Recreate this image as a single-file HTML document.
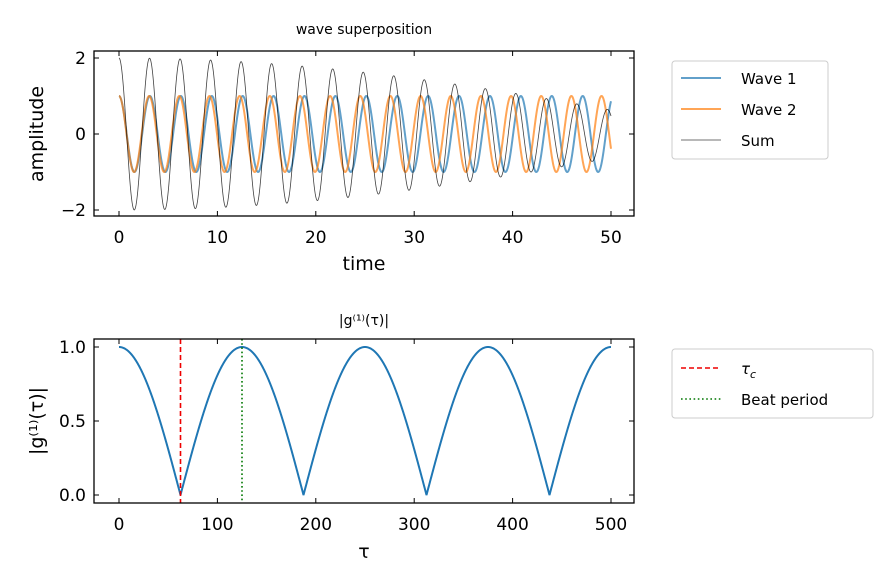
<!DOCTYPE html>
<html><head><meta charset="utf-8">
<style>
html,body{margin:0;padding:0;background:#fff;}
svg text{font-family:"DejaVu Sans","Liberation Sans",sans-serif;fill:#000;}
</style></head>
<body>
<svg id="s" width="892" height="583" xmlns="http://www.w3.org/2000/svg">
<rect width="892" height="583" fill="#fff"/>
<text x="364" y="34" style="font-size:14px" text-anchor="middle">wave superposition</text>
<g id="gtop"></g>
<text x="364" y="325" style="font-size:14px" text-anchor="middle">|g⁽¹⁾(τ)|</text>
<g id="gbot"></g>
</svg>
<script>
(function(){
var NS="http://www.w3.org/2000/svg";
function el(p,t,a,txt){var e=document.createElementNS(NS,t);for(var k in a)e.setAttribute(k,a[k]);if(txt!=null)e.textContent=txt;p.appendChild(e);return e;}
function fs(n){return 'font-size:'+n+'px';}
var gTop=document.getElementById('gtop'),gBot=document.getElementById('gbot');
var L=94,R=634,T1=51,B1=216;
function xt(t){return 119+t*9.84;} function yt(v){return 134-v*38;}
function path(f,x0,x1,n,X,Y){var d="";for(var i=0;i<=n;i++){var t=x0+(x1-x0)*i/n;d+=(i?"L":"M")+X(t).toFixed(2)+","+Y(f(t)).toFixed(2);}return d;}
var w1=2,w2=2.05;
el(gTop,'path',{d:path(function(t){return Math.cos(w1*t)},0,50,1500,xt,yt),fill:'none',stroke:'#1f77b4','stroke-opacity':0.7,'stroke-width':2});
el(gTop,'path',{d:path(function(t){return Math.cos(w2*t)},0,50,1500,xt,yt),fill:'none',stroke:'#ff7f0e','stroke-opacity':0.7,'stroke-width':2});
el(gTop,'path',{d:path(function(t){return Math.cos(w1*t)+Math.cos(w2*t)},0,50,1500,xt,yt),fill:'none',stroke:'#000','stroke-opacity':0.75,'stroke-width':0.8});
el(gTop,'rect',{x:L,y:T1,width:R-L,height:B1-T1,fill:'none',stroke:'#000','stroke-width':1.3});
[0,10,20,30,40,50].forEach(function(v){var x=xt(v);el(gTop,'line',{x1:x,x2:x,y1:B1,y2:B1-5,stroke:'#000'});el(gTop,'line',{x1:x,x2:x,y1:T1,y2:T1+5,stroke:'#000'});el(gTop,'text',{x:x,y:B1+27,style:fs(17),'text-anchor':'middle'},v);});
[-2,0,2].forEach(function(v){var y=yt(v);el(gTop,'line',{x1:L,x2:L+5,y1:y,y2:y,stroke:'#000'});el(gTop,'line',{x1:R,x2:R-5,y1:y,y2:y,stroke:'#000'});el(gTop,'text',{x:L-8,y:y+6,style:fs(17),'text-anchor':'end'},v<0?'−'+(-v):v);});
el(gTop,'text',{x:364,y:270,style:fs(19),'text-anchor':'middle'},'time');
el(gTop,'text',{x:43,y:134,style:fs(19),'text-anchor':'middle',transform:'rotate(-90 43 134)'},'amplitude');
el(gTop,'rect',{x:672,y:61,width:156,height:98,rx:3,fill:'#fff',stroke:'#ccc'});
[['Wave 1','#1f77b4',2,0.7],['Wave 2','#ff7f0e',2,0.7],['Sum','#000',0.8,0.75]].forEach(function(a,i){var y=78+i*31;el(gTop,'line',{x1:681,x2:721,y1:y,y2:y,stroke:a[1],'stroke-width':a[2],'stroke-opacity':a[3]});el(gTop,'text',{x:741,y:y+6,style:fs(15)},a[0]);});
var T2=339,B2=503;
function xb(t){return 119+t*0.984;} function yb(v){return 495-v*148;}
el(gBot,'path',{d:path(function(t){return Math.abs(Math.cos(Math.PI*t/125))},0,500,1500,xb,yb),fill:'none',stroke:'#1f77b4','stroke-width':2});
el(gBot,'line',{x1:xb(62.5),x2:xb(62.5),y1:T2,y2:B2,stroke:'#e00','stroke-width':1.6,'stroke-dasharray':'5,3'});
el(gBot,'line',{x1:xb(125),x2:xb(125),y1:T2,y2:B2,stroke:'#070','stroke-width':1.6,'stroke-dasharray':'1.6,2.6'});
el(gBot,'rect',{x:L,y:T2,width:R-L,height:B2-T2,fill:'none',stroke:'#000','stroke-width':1.3});
[0,100,200,300,400,500].forEach(function(v){var x=xb(v);el(gBot,'line',{x1:x,x2:x,y1:B2,y2:B2-5,stroke:'#000'});el(gBot,'line',{x1:x,x2:x,y1:T2,y2:T2+5,stroke:'#000'});el(gBot,'text',{x:x,y:B2+27,style:fs(17),'text-anchor':'middle'},v);});
[0,0.5,1].forEach(function(v){var y=yb(v);el(gBot,'line',{x1:L,x2:L+5,y1:y,y2:y,stroke:'#000'});el(gBot,'line',{x1:R,x2:R-5,y1:y,y2:y,stroke:'#000'});el(gBot,'text',{x:L-8,y:y+6,style:fs(17),'text-anchor':'end'},v.toFixed(1));});
el(gBot,'text',{x:364,y:558,style:fs(19),'text-anchor':'middle'},'τ');
el(gBot,'text',{x:43,y:421,style:fs(19),'text-anchor':'middle',transform:'rotate(-90 43 421)'},'|g⁽¹⁾(τ)|');
el(gBot,'rect',{x:672,y:349,width:201,height:69,rx:3,fill:'#fff',stroke:'#ccc'});
el(gBot,'line',{x1:681,x2:721,y1:368,y2:368,stroke:'#e00','stroke-width':1.6,'stroke-dasharray':'5,3'});
var t=el(gBot,'text',{x:741,y:374,style:fs(15)+';font-style:italic'},'τ');el(t,'tspan',{style:fs(11),dy:4},'c');
el(gBot,'line',{x1:681,x2:721,y1:399,y2:399,stroke:'#070','stroke-width':1.6,'stroke-dasharray':'1.6,2.6'});
el(gBot,'text',{x:741,y:405,style:fs(15)},'Beat period');
})();
</script>
</body></html>
